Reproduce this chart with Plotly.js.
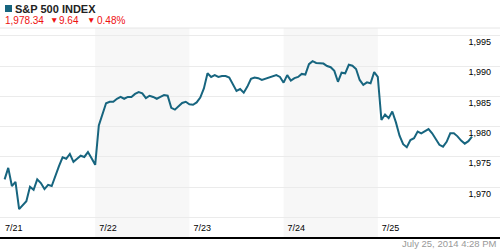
<!DOCTYPE html>
<html>
<head>
<meta charset="utf-8">
<script src="https://cdn.plot.ly/plotly-3.0.1.min.js"></script>
<style>
  html, body { margin: 0; padding: 0; background: #ffffff; }
  #chart { width: 500px; height: 250px; }
</style>
</head>
<body>
<div id="chart"></div>
<script>
// ---- data ----
const dayLabels = ['7/21', '7/22', '7/23', '7/24', '7/25'];
// 15-minute closes, 9:45 .. 16:00 (26 per session)
const day1 = [1971.3, 1973.2, 1970.2, 1970.9, 1966.4, 1967.1, 1967.7, 1970.1, 1969.6, 1971.3, 1970.7, 1969.7, 1970.4,
              1970.2, 1972.0, 1973.5, 1974.95, 1974.7, 1975.5, 1974.2, 1974.7, 1975.2, 1975.0, 1975.8, 1974.8, 1973.7];
const day2 = [1980.2, 1982.2, 1983.85, 1984.1, 1984.1, 1984.6, 1984.9, 1984.6, 1984.9, 1984.9, 1985.4, 1985.7, 1985.5,
              1984.7, 1985.1, 1984.9, 1984.6, 1984.9, 1985.2, 1985.1, 1983.1, 1982.8, 1983.4, 1983.9, 1984.1, 1983.7];
const day3 = [1983.6, 1984.0, 1984.8, 1986.3, 1988.8, 1988.2, 1988.5, 1988.2, 1988.35, 1988.35, 1988.1, 1986.9, 1985.9,
              1986.2, 1985.6, 1986.6, 1987.9, 1988.1, 1988.0, 1987.7, 1987.9, 1988.0, 1988.3, 1988.5, 1988.2, 1987.25];
const day4 = [1988.5, 1987.6, 1988.0, 1988.2, 1988.7, 1988.6, 1990.3, 1990.8, 1990.5, 1990.5, 1990.4, 1990.0, 1989.8,
              1989.2, 1987.4, 1988.9, 1988.8, 1990.2, 1990.05, 1989.5, 1987.7, 1986.9, 1987.3, 1987.15, 1989.0, 1988.2];
const day5 = [1981.1, 1982.0, 1981.4, 1982.5, 1980.7, 1978.5, 1977.1, 1976.6, 1977.8, 1978.1, 1979.2, 1978.9, 1979.2,
              1979.6, 1978.9, 1978.0, 1977.0, 1976.7, 1977.5, 1978.9, 1978.9, 1978.4, 1977.7, 1977.2, 1977.6, 1978.34];
const sessions = [day1, day2, day3, day4, day5];
const yTickVals = [1965, 1970, 1975, 1980, 1985, 1990, 1995];
const yTickText = ['', '1,970', '1,975', '1,980', '1,985', '1,990', '1,995'];
const titleText = 'S&P 500 INDEX';
const lastText = '1,978.34';
const changeText = '9.64';
const pctText = '0.48%';
const stampText = 'July 25, 2014 4:28 PM';

// ---- build ----
const xs = [], ys = [];
sessions.forEach((vals, d) => {
  vals.forEach((v, i) => { xs.push(d + (i + 1) / vals.length); ys.push(v); });
});

const teal = '#17657f';
const red = '#ee1111';
const W = 500, H = 250, T = 28, B = 13;
const ph = H - T - B;
const py = p => 1 + (T - p) / ph;   // pixel row -> paper y (rows above plot)
const px = p => p / W;

const shapes = [];
[1, 3].forEach(d => shapes.push({
  type: 'rect', xref: 'x', yref: 'paper', x0: d, x1: d + 1, y0: 0, y1: 1,
  fillcolor: '#f7f7f7', line: { width: 0 }, layer: 'below'
}));
shapes.push({ type: 'line', xref: 'paper', yref: 'paper', x0: 0, x1: 1, y0: 1, y1: 1,
  line: { color: '#e6e6e6', width: 1 } });
shapes.push({ type: 'rect', xref: 'paper', yref: 'paper', x0: px(5), x1: px(12), y0: py(12), y1: py(5),
  fillcolor: teal, line: { width: 0 } });

const ann = (text, x, y, size, color, extra) => Object.assign({
  text: text, xref: 'paper', yref: 'paper', x: px(x), y: py(y), xanchor: 'left', yanchor: 'middle',
  showarrow: false, borderpad: 0, font: { family: 'Liberation Sans, Arial, sans-serif', size: size, color: color }
}, extra || {});

const annotations = [
  ann('<b>' + titleText + '</b>', 14, 8.5, 11, '#222222'),
  ann(lastText, 4, 20.5, 10, red),
  ann('▼', 49, 20, 8.5, red),
  ann(changeText, 58, 20.5, 10, red),
  ann('▼', 86, 20, 8.5, red),
  ann(pctText, 96, 20.5, 10, red),
  Object.assign(ann(stampText, 498, 243.5, 9.5, '#999999'), { xanchor: 'right' })
];

const trace = {
  x: xs, y: ys, type: 'scatter', mode: 'lines',
  line: { color: teal, width: 2 }, hoverinfo: 'skip'
};

const layout = {
  width: W, height: H,
  margin: { l: 0, r: 0, t: T, b: B, pad: 0 },
  paper_bgcolor: '#ffffff', plot_bgcolor: '#ffffff',
  showlegend: false,
  xaxis: {
    range: [-1 / 94.2, 499 / 94.2],
    tickvals: dayLabels.map((_, i) => i), ticktext: dayLabels,
    ticklabelposition: 'inside right', ticks: '', showgrid: false, zeroline: false,
    showline: true, linecolor: '#000000', linewidth: 2,
    tickfont: { family: 'Liberation Sans, Arial, sans-serif', size: 9, color: '#000000' },
    ticklabelshift: 3, ticklabelstandoff: 0, fixedrange: true
  },
  yaxis: {
    side: 'right', range: [1961.8, 1996.27],
    tickvals: yTickVals, ticktext: yTickText,
    ticklabelposition: 'inside bottom', ticks: '', showgrid: true, gridcolor: '#ebebeb', gridwidth: 1,
    zeroline: false, showline: false,
    tickfont: { family: 'Liberation Sans, Arial, sans-serif', size: 9, color: '#000000' },
    ticklabelstandoff: 6, fixedrange: true
  },
  shapes: shapes,
  annotations: annotations
};

Plotly.newPlot('chart', [trace], layout, { displayModeBar: false, staticPlot: true });
</script>
</body>
</html>
